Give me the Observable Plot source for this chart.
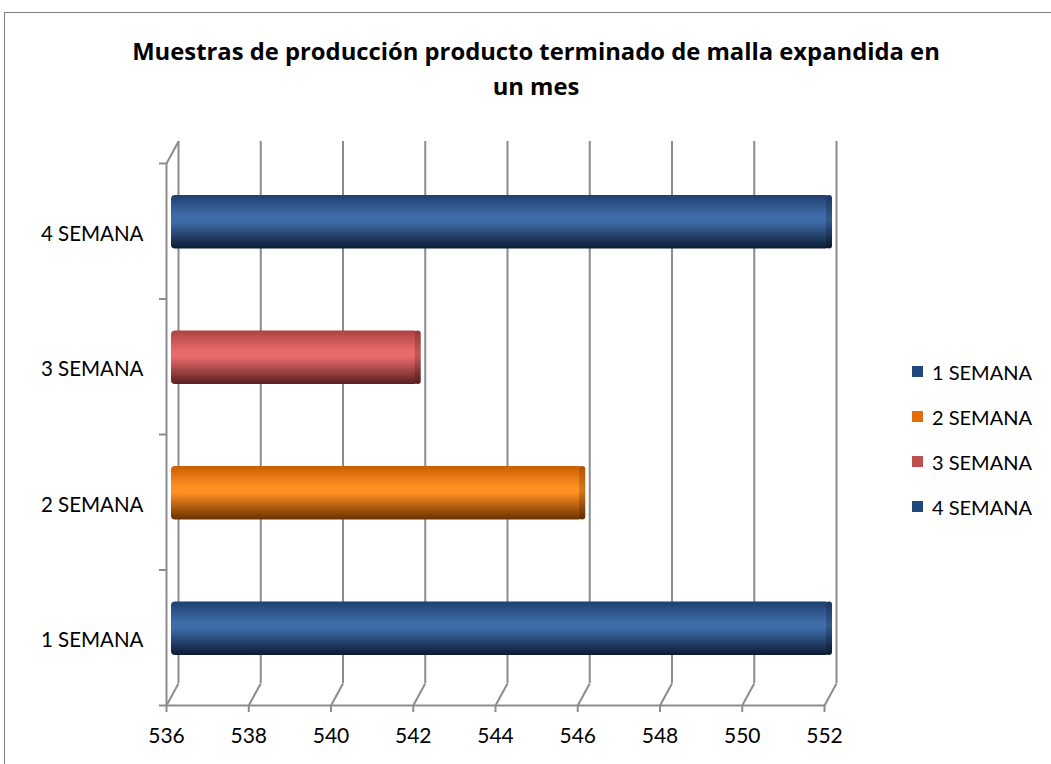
<!DOCTYPE html>
<html>
<head>
<meta charset="utf-8">
<script src="https://cdn.jsdelivr.net/npm/d3@7"></script>
<script src="https://cdn.jsdelivr.net/npm/@observablehq/plot@0.6"></script>
<style>
  html, body { margin: 0; padding: 0; background: #fff; overflow: hidden; }
  #chart { position: relative; width: 1051px; height: 764px; font-family: Lato, "Noto Sans", sans-serif; color: #000; }
  #frame { position: absolute; left: 4px; top: 12px; width: 1100px; height: 800px; border: 1px solid #7f7f7f; box-sizing: border-box; }
  #plot { position: absolute; left: 0; top: 0; }
  #title { position: absolute; left: 0; top: 34px; width: 1072px; text-align: center; font-family: "Open Sans", Lato, sans-serif; font-weight: bold; font-size: 23.8px; line-height: 35px; }
  #legend { position: absolute; left: 912px; top: 349px; font-size: 20px; }
  .item { display: flex; align-items: center; height: 45px; }
  .swatch { width: 11px; height: 11px; margin-right: 9px; }
</style>
</head>
<body>
<div id="chart">
  <div id="frame"></div>
  <div id="plot"></div>
  <div id="title">Muestras de producción producto terminado de malla expandida en<br>un mes</div>
  <div id="legend"></div>
</div>
<script>
// Weekly production samples (bottom to top)
const semanas = ["1 SEMANA", "2 SEMANA", "3 SEMANA", "4 SEMANA"];
const valores = [552, 546, 542, 552];
const xTicks = [536, 538, 540, 542, 544, 546, 548, 550, 552];
const legendColors = ["#1f497d", "#e46c0a", "#c0504d", "#1f497d"];

// cylinder shading per series: [top, highlight, bottom]
const shades = [
  ["#1e3f6f", "#3f6ca8", "#0b1b33"],
  ["#c85e00", "#ff9022", "#6a3000"],
  ["#ad4242", "#e86a6a", "#5a1e1e"],
  ["#1e3f6f", "#3f6ca8", "#0b1b33"]
];

const rows = semanas.map((s, i) => ({semana: s, value: valores[i], idx: i}));

// plot geometry
const W = 1051, H = 764;
const mL = 166, mR = 227, mT = 163, mB = 59;
const xMin = xTicks[0], xMax = xTicks[xTicks.length - 1];
// 3D depth of the back wall, in pixels, converted to data units
const depthPx = [12, 22];
const depthX = depthPx[0] * (xMax - xMin) / (W - mL - mR);
const depthY = depthPx[1] * semanas.length / (H - mT - mB);

const gray = "#8c8c8c";

const plot = Plot.plot({
  width: W, height: H,
  marginLeft: mL, marginRight: mR, marginTop: mT, marginBottom: mB,
  style: {fontFamily: "Lato, 'Noto Sans', sans-serif", color: "#000", background: "transparent"},
  x: {domain: [xMin, xMax]},
  y: {domain: [0, semanas.length]},
  color: {domain: semanas, range: semanas.map((s, i) => `url(#cyl${i})`)},
  marks: [
    // back wall gridlines
    Plot.ruleX(xTicks, {x: d => d, y1: 0, y2: semanas.length, dx: depthPx[0], dy: -depthPx[1], stroke: gray, strokeWidth: 2}),
    // floor diagonals from the front edge to the back wall
    Plot.link(xTicks, {x1: d => d, y1: 0, x2: d => d + depthX, y2: depthY, stroke: gray, strokeWidth: 2}),
    // front floor edge
    Plot.ruleY([0], {x1: xMin, x2: xMax, stroke: gray, strokeWidth: 2}),
    // left wall front edge and its top diagonal
    Plot.ruleX([xMin], {y1: 0, y2: semanas.length, stroke: gray, strokeWidth: 2}),
    Plot.link([semanas.length], {x1: xMin, y1: d => d, x2: xMin + depthX, y2: d => d + depthY, stroke: gray, strokeWidth: 2}),
    // axes
    Plot.axisX({ticks: xTicks, tickSize: 7, tickPadding: 16, fontSize: 21, stroke: gray, strokeWidth: 2, tickFormat: d => d, label: null}),
    Plot.axisY({ticks: d3.range(semanas.length + 1), tickSize: 7, stroke: gray, strokeWidth: 2, tickFormat: () => "", label: null}),
    Plot.axisY({ticks: semanas.map((s, i) => i + 0.5), tickSize: 0, tickPadding: 23, fontSize: 20.5, dy: 3, tickFormat: d => semanas[Math.floor(d)], label: null}),
    // cylinder bodies
    Plot.rect(rows, {x1: xMin, x2: "value", y1: "idx", y2: d => d.idx + 1, insetTop: 41, insetBottom: 41,
      dx: 5, dy: -9, fill: "semana", rx: 4}),
    // cylinder end caps
    Plot.rect(rows, {x1: "value", x2: "value", y1: "idx", y2: d => d.idx + 1, insetTop: 41, insetBottom: 41,
      insetLeft: -3, insetRight: -3, dx: 5, dy: -9, fill: d => `url(#cap${d.idx})`, rx: 3})
  ]
});

// gradient definitions for the cylinder shading
const defs = d3.select(plot).insert("defs", ":first-child");
shades.forEach((c, i) => {
  const g = defs.append("linearGradient").attr("id", `cyl${i}`).attr("x1", 0).attr("y1", 0).attr("x2", 0).attr("y2", 1);
  [[0, c[0]], [0.38, c[1]], [0.5, c[1]], [1, c[2]]].forEach(([o, col]) => g.append("stop").attr("offset", o).attr("stop-color", col));
  const h = defs.append("linearGradient").attr("id", `cap${i}`).attr("x1", 0).attr("y1", 0).attr("x2", 0).attr("y2", 1);
  [[0, d3.color(c[0]).darker(0.4)], [0.45, d3.color(c[1]).darker(0.5)], [1, d3.color(c[2]).darker(0.3)]].forEach(([o, col]) => h.append("stop").attr("offset", o).attr("stop-color", col));
});

document.getElementById("plot").appendChild(plot);

// legend
const legend = d3.select("#legend");
semanas.forEach((s, i) => {
  const it = legend.append("div").attr("class", "item");
  it.append("div").attr("class", "swatch").style("background", legendColors[i]);
  it.append("span").text(s);
});
</script>
</body>
</html>
